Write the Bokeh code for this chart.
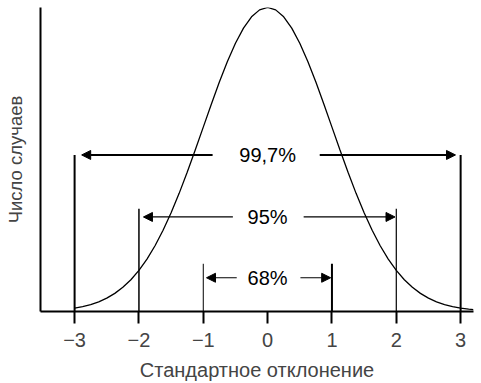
from bokeh.plotting import figure
from bokeh.models import Range1d, LinearAxis, FixedTicker, Arrow, NormalHead, Label
from bokeh.embed import file_html
from bokeh.resources import INLINE

# Normal curve (relative height, peak = 1)
curve_x = [-3.0, -2.875, -2.75, -2.625, -2.5, -2.375, -2.25, -2.125, -2.0, -1.875, -1.75,
           -1.625, -1.5, -1.375, -1.25, -1.125, -1.0, -0.875, -0.75, -0.625, -0.5, -0.375,
           -0.25, -0.125, 0.0, 0.125, 0.25, 0.375, 0.5, 0.625, 0.75, 0.875, 1.0, 1.125, 1.25,
           1.375, 1.5, 1.625, 1.75, 1.875, 2.0, 2.125, 2.25, 2.375, 2.5, 2.625, 2.75, 2.875,
           3.0, 3.125, 3.2]
curve_y = [0.0111, 0.0160, 0.0228, 0.0319, 0.0439, 0.0596, 0.0796, 0.1046, 0.1353, 0.1724,
           0.2163, 0.2671, 0.3247, 0.3886, 0.4578, 0.5311, 0.6065, 0.6820, 0.7548, 0.8226,
           0.8825, 0.9321, 0.9692, 0.9922, 1.0, 0.9922, 0.9692, 0.9321, 0.8825, 0.8226,
           0.7548, 0.6820, 0.6065, 0.5311, 0.4578, 0.3886, 0.3247, 0.2671, 0.2163, 0.1724,
           0.1353, 0.1046, 0.0796, 0.0596, 0.0439, 0.0319, 0.0228, 0.0160, 0.0111, 0.0076,
           0.0060]

tick_values = [-3, -2, -1, 0, 1, 2, 3]
tick_labels = ["−3", "−2", "−1", "0", "1", "2", "3"]

x_title = "Стандартное отклонение"
y_title = "Число случаев"

# intervals: label, sigma bound, level of arrows/label, height of bounding lines
interval_labels = ["68%", "95%", "99,7%"]
interval_sigma = [1, 2, 3]
interval_level = [0.111, 0.311, 0.515]
interval_top = [0.157, 0.338, 0.515]
arrow_left_start = [-0.48, -0.54, -0.855]
arrow_left_end = [-0.95, -1.93, -2.89]
arrow_right_start = [0.51, 0.56, 0.81]
arrow_right_end = [0.98, 1.98, 2.92]
bound_width_left = [1.0, 1.5, 2.0]
bound_width_right = [2.0, 1.2, 2.0]
arrow_width = [1.2, 1.2, 2.0]

FONT = "Liberation Sans"

p = figure(width=481, height=383, output_backend="svg", toolbar_location=None,
           x_range=Range1d(-3.53, 3.2), y_range=Range1d(0, 1.0),
           x_axis_location=None, y_axis_location=None,
           min_border_left=40, min_border_right=8, min_border_top=7, min_border_bottom=71)
p.outline_line_color = None
p.grid.visible = False
p.background_fill_color = "white"
p.border_fill_color = "white"

xaxis = LinearAxis(ticker=FixedTicker(ticks=tick_values),
                   major_label_overrides={v: l for v, l in zip(tick_values, tick_labels)})
xaxis.axis_line_width = 2
xaxis.major_tick_line_width = 2
xaxis.major_tick_in = 0
xaxis.major_tick_out = 12
xaxis.minor_tick_line_color = None
xaxis.major_label_text_font = FONT
xaxis.major_label_text_font_size = "20px"
xaxis.major_label_standoff = 9
xaxis.axis_label = x_title
xaxis.axis_label_text_font = FONT
xaxis.axis_label_text_font_size = "20px"
xaxis.axis_label_text_font_style = "normal"
xaxis.axis_label_standoff = 9
p.add_layout(xaxis, "below")

yaxis = LinearAxis(ticker=FixedTicker(ticks=[]))
yaxis.axis_line_width = 2
yaxis.major_tick_line_color = None
yaxis.minor_tick_line_color = None
yaxis.major_label_text_font_size = "0px"
yaxis.major_label_standoff = 0
yaxis.axis_label = y_title
yaxis.axis_label_text_font = FONT
yaxis.axis_label_text_font_size = "18.5px"
yaxis.axis_label_text_font_style = "normal"
yaxis.axis_label_standoff = 15
p.add_layout(yaxis, "left")

p.line(curve_x, curve_y, line_color="black", line_width=1.3)

for i in range(len(interval_labels)):
    s = interval_sigma[i]
    p.segment(x0=[-s], y0=[0], x1=[-s], y1=[interval_top[i]], line_color="black",
              line_width=bound_width_left[i])
    p.segment(x0=[s], y0=[0], x1=[s], y1=[interval_top[i]], line_color="black",
              line_width=bound_width_right[i])
    for xs, xe in ((arrow_left_start[i], arrow_left_end[i]), (arrow_right_start[i], arrow_right_end[i])):
        p.add_layout(Arrow(end=NormalHead(size=9, fill_color="black", line_color="black", line_width=1),
                           x_start=xs, y_start=interval_level[i], x_end=xe, y_end=interval_level[i],
                           line_color="black", line_width=arrow_width[i]))
    p.add_layout(Label(x=0, y=interval_level[i], text=interval_labels[i], text_align="center",
                       text_baseline="middle", text_font=FONT, text_font_size="20px",
                       text_color="black"))

open("out.html", "w").write(file_html(p, INLINE))
